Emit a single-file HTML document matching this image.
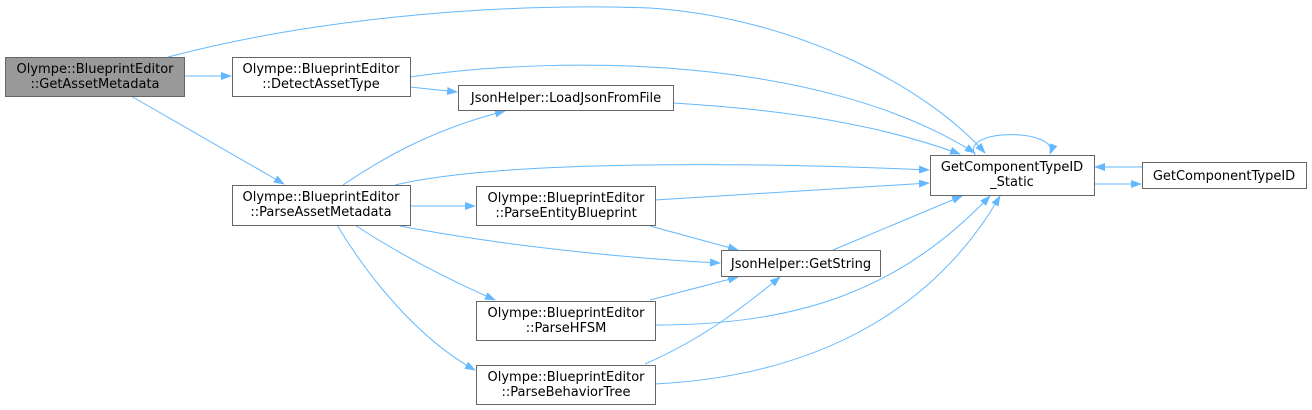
<!DOCTYPE html>
<html><head><meta charset="utf-8"><style>
html,body{margin:0;padding:0;background:#fff;width:1312px;height:410px;overflow:hidden}
text{font-family:"DejaVu Sans","Liberation Sans",sans-serif;font-size:13px;fill:#000}
</style></head><body>
<svg width="1312" height="410" viewBox="0 0 1312 410" xmlns="http://www.w3.org/2000/svg">
<defs>
<marker id="a" markerWidth="11" markerHeight="8" refX="10" refY="4" orient="auto" markerUnits="userSpaceOnUse">
<path d="M0,0 L11,4 L0,8 Z" fill="#63b8ff"/>
</marker>
</defs>
<g fill="none" stroke="#63b8ff" stroke-width="1" marker-end="url(#a)">
<path d="M184,76 L231,76"/>
<path d="M131,96 L284,184"/>
<path d="M168,57 C300,22 480,2 650,8 C800,18 930,90 985,153"/>
<path d="M410,77 C560,55 820,55 975,153"/>
<path d="M410,87 L457,92"/>
<path d="M673,103 C790,110 880,125 960,154"/>
<path d="M343,185 C380,160 430,130 505,111"/>
<path d="M395,185 C500,160 750,162 929,170"/>
<path d="M410,206 L475,206"/>
<path d="M400,226 C500,245 620,258 720,263"/>
<path d="M355,225 C400,255 450,280 495,300"/>
<path d="M337,225 C370,280 420,340 475,370"/>
<path d="M655,200 L929,183"/>
<path d="M650,226 L738,250"/>
<path d="M650,300 L738,277"/>
<path d="M655,325 C800,325 900,290 990,196"/>
<path d="M645,364 C700,340 740,310 780,277"/>
<path d="M655,384 C830,375 940,300 1000,196"/>
<path d="M833,250 L962,196"/>
<path d="M975,155 C960,128 1060,128 1050,154"/>
<path d="M1142,167 L1095,167"/>
<path d="M1094,184 L1141,184"/>
</g>
<g stroke="#666" stroke-width="1">
<rect x="5.5" y="57.5" width="179" height="39" fill="#999"/>
<rect x="232.5" y="57.5" width="178" height="39" fill="#fff"/>
<rect x="232.5" y="185.5" width="178" height="40" fill="#fff"/>
<rect x="458.5" y="85.5" width="215" height="25" fill="#fff"/>
<rect x="476.5" y="186.5" width="179" height="39" fill="#fff"/>
<rect x="721.5" y="250.5" width="159" height="26" fill="#fff"/>
<rect x="476.5" y="301.5" width="179" height="39" fill="#fff"/>
<rect x="476.5" y="365.5" width="179" height="39" fill="#fff"/>
<rect x="930.5" y="155.5" width="164" height="40" fill="#fff"/>
<rect x="1142.5" y="162.5" width="164" height="26" fill="#fff"/>
</g>
<g text-anchor="middle">
<text x="95" y="73">Olympe::BlueprintEditor</text><text x="95" y="88">::GetAssetMetadata</text>
<text x="321" y="73">Olympe::BlueprintEditor</text><text x="321" y="88">::DetectAssetType</text>
<text x="321" y="201">Olympe::BlueprintEditor</text><text x="321" y="216">::ParseAssetMetadata</text>
<text x="566" y="102">JsonHelper::LoadJsonFromFile</text>
<text x="566" y="202">Olympe::BlueprintEditor</text><text x="566" y="217">::ParseEntityBlueprint</text>
<text x="801" y="268">JsonHelper::GetString</text>
<text x="566" y="317">Olympe::BlueprintEditor</text><text x="566" y="332">::ParseHFSM</text>
<text x="566" y="381">Olympe::BlueprintEditor</text><text x="566" y="396">::ParseBehaviorTree</text>
<text x="1012" y="171">GetComponentTypeID</text><text x="1012" y="186">_Static</text>
<text x="1224" y="180">GetComponentTypeID</text>
</g>
</svg>
</body></html>
